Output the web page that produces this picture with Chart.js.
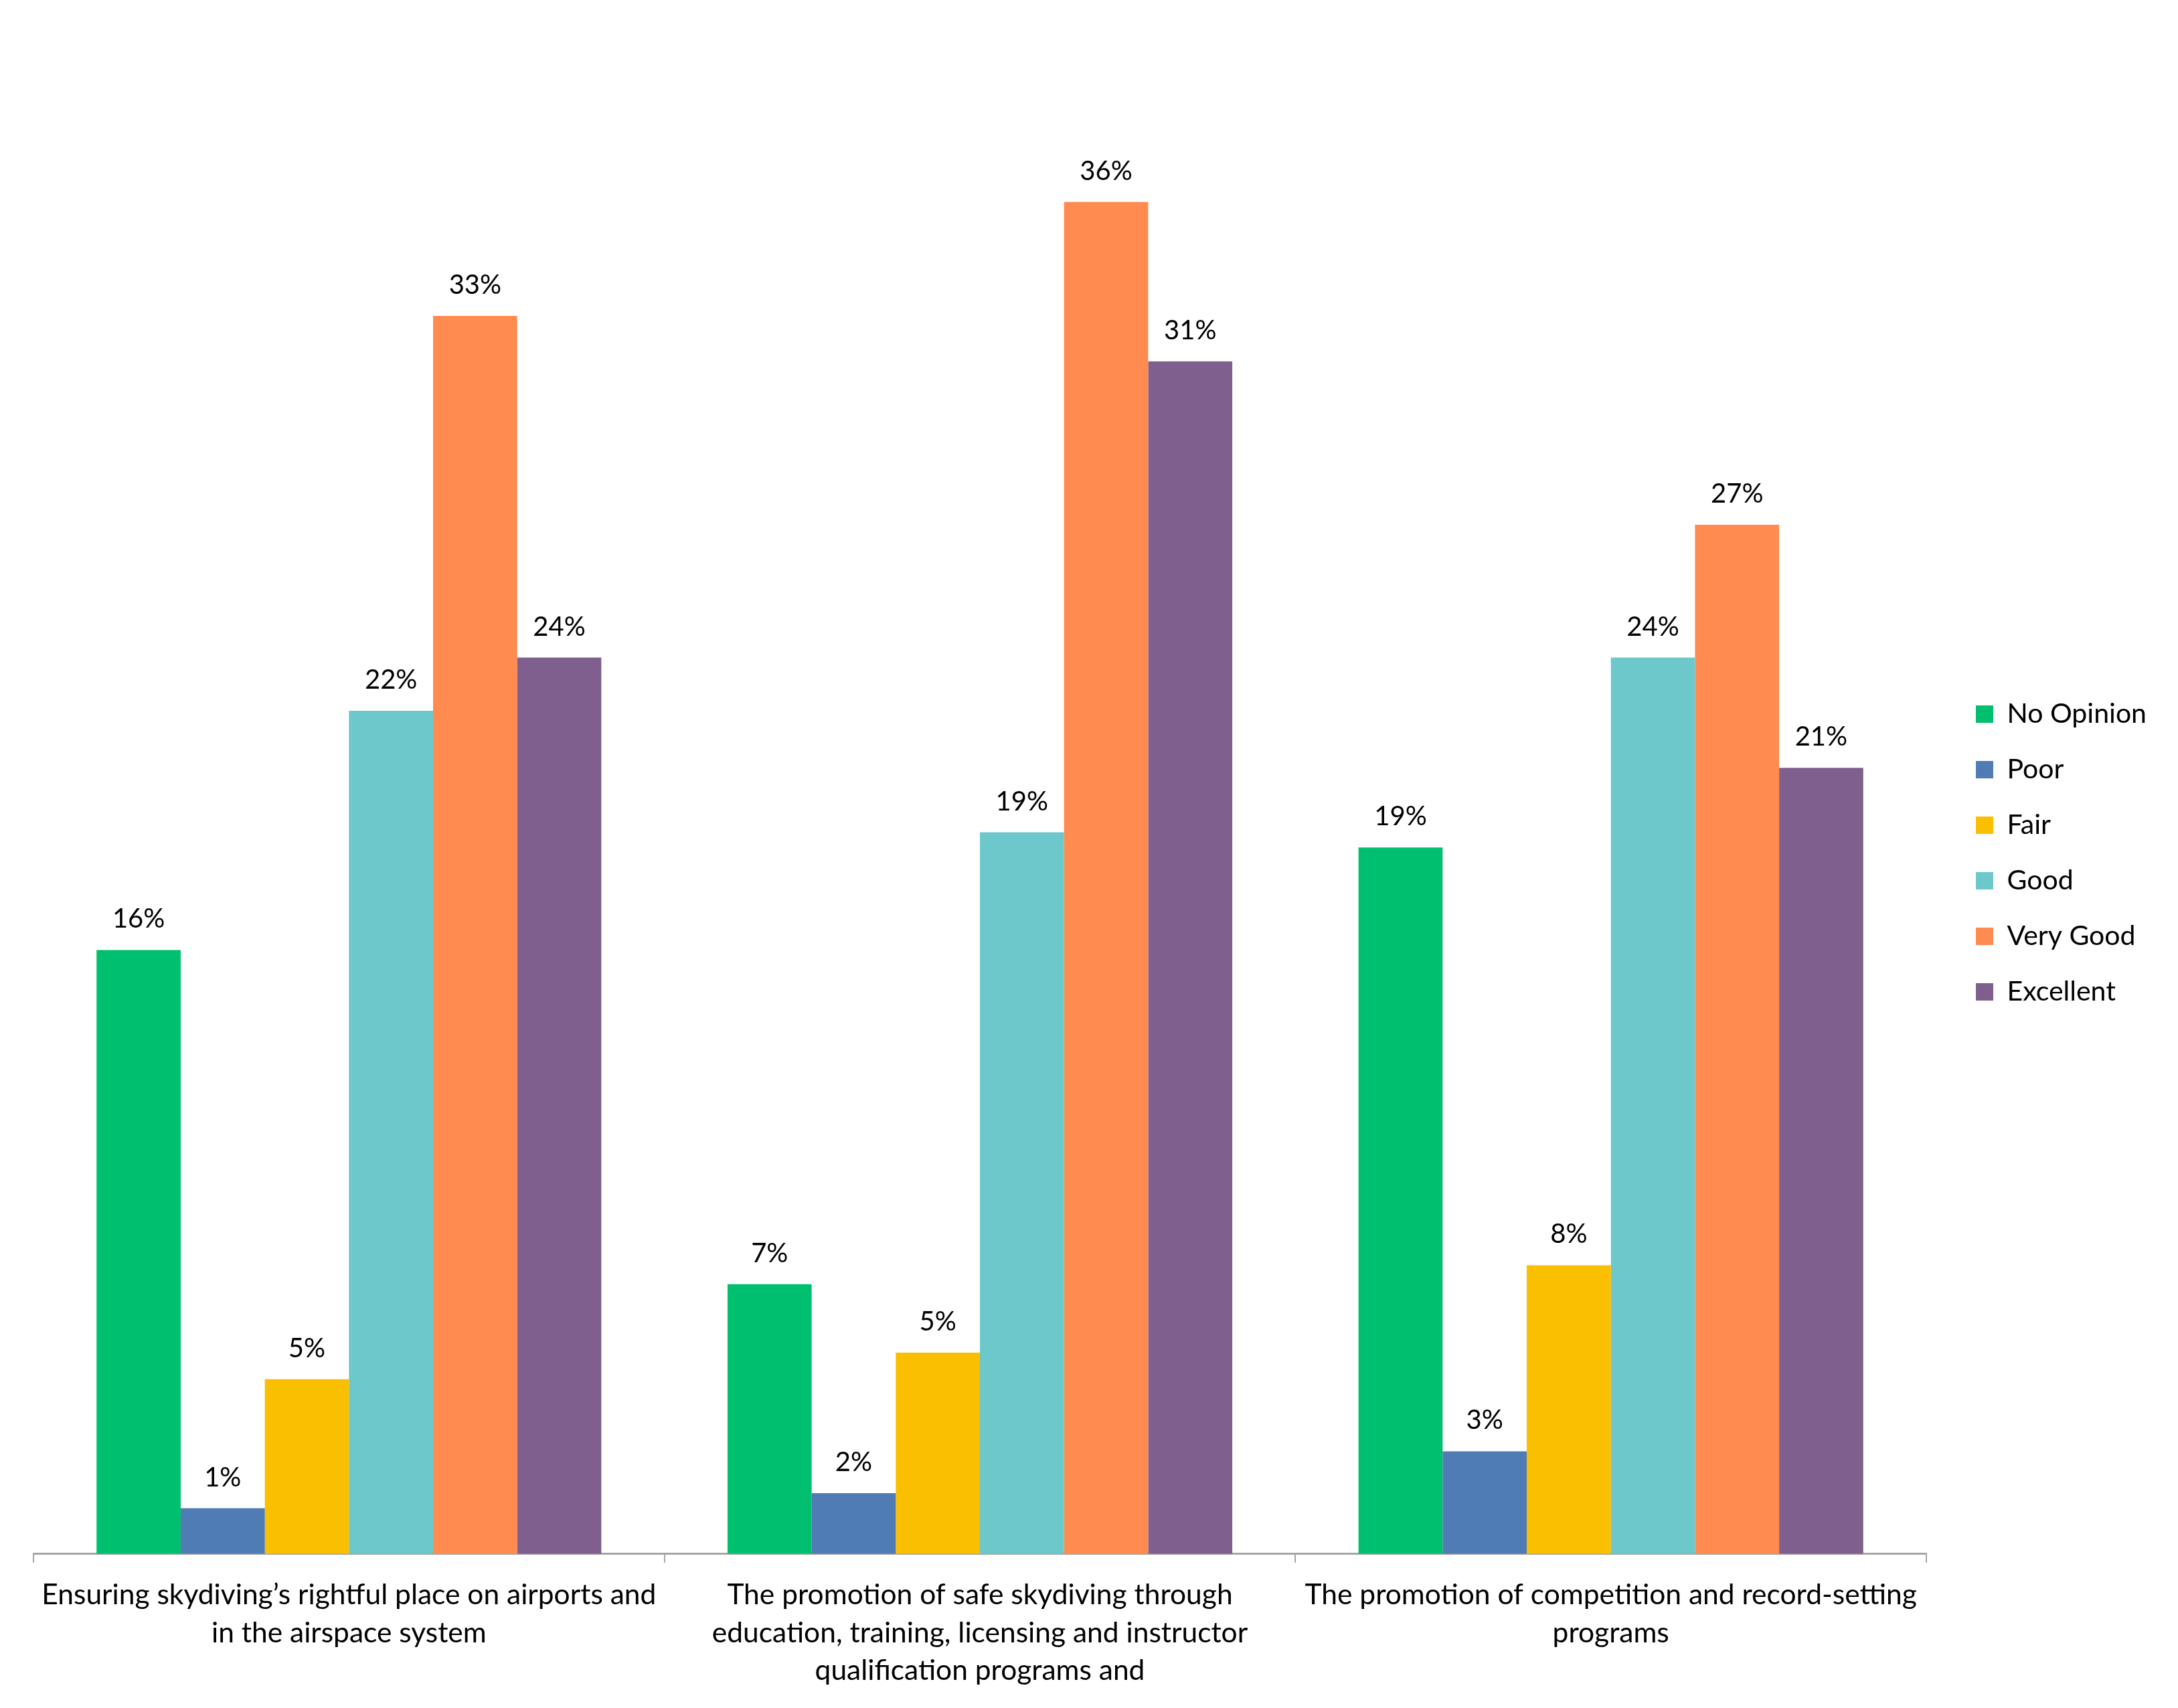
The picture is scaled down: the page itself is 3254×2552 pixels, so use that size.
<!DOCTYPE html>
<html>
<head>
<meta charset="utf-8">
<title>Skydiving survey ratings</title>
<script src="https://cdn.jsdelivr.net/npm/chart.js@4.4.1/dist/chart.umd.min.js"></script>
<style>
  html, body { margin: 0; padding: 0; background: #fff; }
  canvas { display: block; }
</style>
</head>
<body>
<canvas id="ratingChart" width="3254" height="2552"></canvas>
<script>
// category labels (already wrapped into lines like the original)
const categories = [
    ['Ensuring skydiving\u2019s rightful place on airports and', 'in the airspace system'],
    ['The promotion of safe skydiving through', 'education, training, licensing and instructor', 'qualification programs and'],
    ['The promotion of competition and record-setting', 'programs']
];

// percentages
const noOpinion = [15.9, 7.1, 18.6];
const poor      = [1.2, 1.6, 2.7];
const fair      = [4.6, 5.3, 7.6];
const good      = [22.2, 19.0, 23.6];
const veryGood  = [32.6, 35.6, 27.1];
const excellent = [23.6, 31.4, 20.7];

const seriesNames  = ['No Opinion', 'Poor', 'Fair', 'Good', 'Very Good', 'Excellent'];
const seriesValues = [noOpinion, poor, fair, good, veryGood, excellent];
const seriesColors = ['#00BF6F', '#4F7CB5', '#F9BF00', '#6DC8CB', '#FF8B51', '#7E5F8E'];

const FONT = 'Lato';
const LEGEND_GAP = 32;   // extra white space between plot and legend
const LEGEND_SHIFT = 24; // legend sits a bit higher than centred

// draws the "16%" style labels over each bar
const barValueLabels = {
    id: 'barValueLabels',
    afterDatasetsDraw(chart) {
        const ctx = chart.ctx;
        ctx.save();
        ctx.font = '40px ' + FONT;
        ctx.fillStyle = '#000';
        ctx.textAlign = 'center';
        ctx.textBaseline = 'alphabetic';
        chart.data.datasets.forEach((ds, i) => {
            const meta = chart.getDatasetMeta(i);
            meta.data.forEach((bar, j) => {
                ctx.fillText(Math.round(ds.data[j]) + '%', bar.x, bar.y - 33);
            });
        });
        ctx.restore();
    }
};

// reserve a little more room for the legend so the axis stops short of it
const legendSpacer = {
    id: 'legendSpacer',
    beforeLayout(chart) {
        const lg = chart.legend;
        if (lg && !lg._spaced) {
            const fit = lg.fit;
            lg.fit = function () {
                fit.call(this);
                this.width += LEGEND_GAP;
            };
            lg._spaced = true;
        }
    },
    afterLayout(chart) {
        const lg = chart.legend;
        if (!lg) return;
        lg.left += LEGEND_GAP;
        lg.top -= LEGEND_SHIFT;
        lg.bottom -= LEGEND_SHIFT;
    }
};

Chart.defaults.color = '#000';
Chart.defaults.font.family = FONT;

new Chart(document.getElementById('ratingChart'), {
    type: 'bar',
    data: {
        labels: categories,
        datasets: seriesNames.map((name, i) => ({
            label: name,
            data: seriesValues[i],
            backgroundColor: seriesColors[i],
            borderWidth: 0,
            categoryPercentage: 0.8,
            barPercentage: 1.0
        }))
    },
    options: {
        responsive: false,
        devicePixelRatio: 1,
        animation: false,
        layout: { padding: { left: 50, top: 52, right: 37, bottom: 7 } },
        plugins: {
            tooltip: { enabled: false },
            legend: {
                position: 'right',
                labels: {
                    boxWidth: 26,
                    boxHeight: 26,
                    padding: 42,
                    font: { size: 41, family: FONT },
                    color: '#000'
                }
            }
        },
        scales: {
            x: {
                grid: {
                    display: true,
                    offset: true,
                    drawOnChartArea: false,
                    drawTicks: true,
                    tickLength: 13,
                    color: '#A6A6A6',
                    lineWidth: 2
                },
                border: { display: true, color: '#A6A6A6', width: 3 },
                ticks: {
                    autoSkip: false,
                    maxRotation: 0,
                    minRotation: 0,
                    padding: 21,
                    color: '#000',
                    font: { size: 42.5, family: FONT, lineHeight: 1.32 }
                }
            },
            y: {
                display: false,
                min: 0,
                max: 40
            }
        }
    },
    plugins: [barValueLabels, legendSpacer]
});
</script>
</body>
</html>
